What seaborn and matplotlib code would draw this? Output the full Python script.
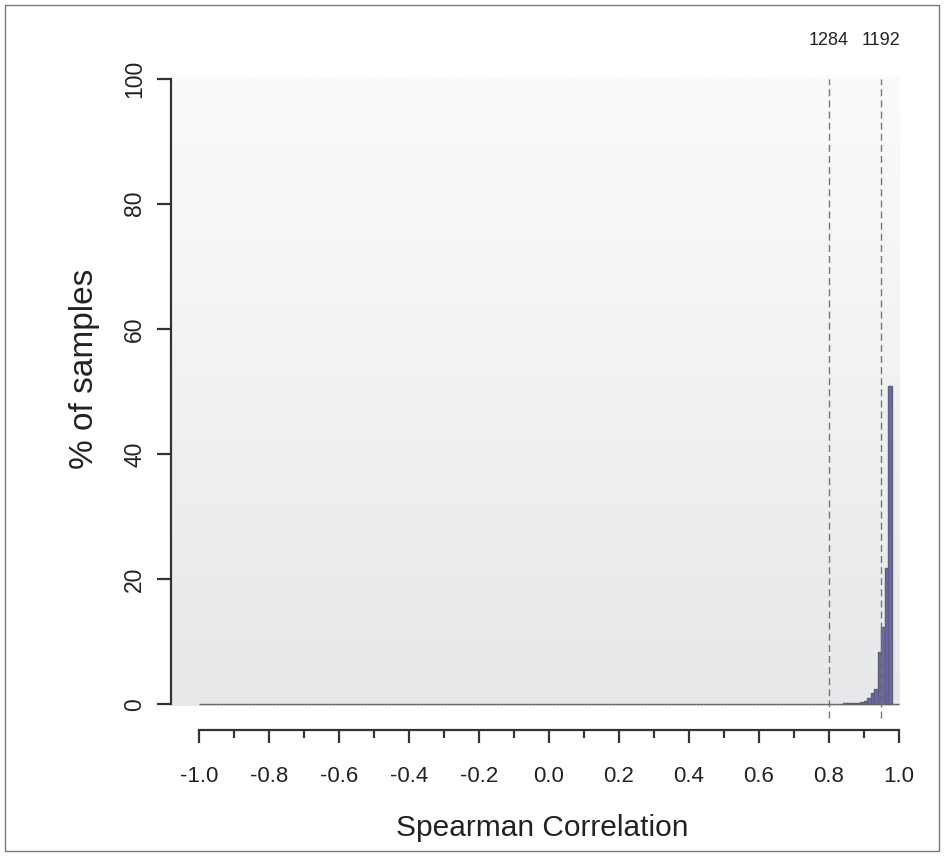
import numpy as np
import pandas as pd
import matplotlib
matplotlib.use("Agg")
import matplotlib.pyplot as plt
from matplotlib.colors import LinearSegmentedColormap
from matplotlib.patches import Rectangle
import seaborn as sns

# ---- data ----
bin_left = [0.46, 0.61, 0.79, 0.84, 0.85, 0.86, 0.87, 0.88, 0.89,
            0.90, 0.91, 0.92, 0.93, 0.94, 0.95, 0.96, 0.97]
pct_samples = [0.08, 0.08, 0.05, 0.25, 0.2, 0.25, 0.2, 0.3, 0.35,
               0.6, 1.1, 1.8, 2.4, 8.3, 12.4, 21.8, 50.8]
thresholds = [0.80, 0.95]
threshold_labels = ["1284", "1192"]
x_ticks = [-1.0, -0.8, -0.6, -0.4, -0.2, 0.0, 0.2, 0.4, 0.6, 0.8, 1.0]
y_ticks = [0, 20, 40, 60, 80, 100]

df = pd.DataFrame({"corr": np.array(bin_left) + 0.005, "pct": pct_samples})

sns.set_style("white")
plt.rcParams["font.family"] = ["Liberation Sans", "DejaVu Sans"]

W, H = 944, 856
fig = plt.figure(figsize=(W / 100, H / 100), dpi=100)
ax = fig.add_axes([171 / W, 1 - 706 / H, (900 - 171) / W, (706 - 76) / H])

xlim = (-1.08, 1.003)
ylim = (-0.25, 100.4)

# gradient panel background
cmap = LinearSegmentedColormap.from_list("bg", ["#e7e8e9", "#fbfbfb"])
grad = np.linspace(0, 1, 256).reshape(-1, 1)
ax.imshow(grad, cmap=cmap, aspect="auto", origin="lower",
          extent=[xlim[0], xlim[1], ylim[0], ylim[1]], zorder=0)

sns.histplot(data=df, x="corr", weights="pct", binwidth=0.01,
             binrange=(-1, 1), stat="count",
             color="#6b68b2", edgecolor="#606070", linewidth=1.0, alpha=1,
             ax=ax)

ax.set_xlim(*xlim)
ax.set_ylim(*ylim)

# dashed threshold lines and labels
for t, lab in zip(thresholds, threshold_labels):
    ax.vlines(t, -2.1, 100, colors="#777777", linestyles=(0, (5, 3)),
              linewidth=1.0, clip_on=False, zorder=3)
    ax.text(t, 106, lab, ha="center", va="center", fontsize=13,
            color="#222222", clip_on=False)

# spines / axes in R style
for s in ["top", "right"]:
    ax.spines[s].set_visible(False)
ax.spines["bottom"].set_position(("outward", 17))
ax.spines["bottom"].set_bounds(-1, 1)
ax.spines["left"].set_bounds(0, 100)
for s in ["bottom", "left"]:
    ax.spines[s].set_color("#333333")
    ax.spines[s].set_linewidth(1.6)

ax.set_xticks(x_ticks)
ax.set_xticklabels([f"{v:.1f}" for v in x_ticks])
ax.set_xticks(np.linspace(-0.9, 0.9, 10), minor=True)
ax.set_yticks(y_ticks)
ax.set_yticklabels([str(v) for v in y_ticks], rotation=90, va="center")

ax.tick_params(axis="x", which="major", length=9.4, width=1.6, color="#333333",
               pad=16.5, labelsize=16, labelcolor="#222222", bottom=True)
ax.tick_params(axis="x", which="minor", length=5.5, width=1.6, color="#333333",
               bottom=True)
ax.tick_params(axis="y", which="major", length=9.8, width=1.6, color="#333333",
               pad=8, labelsize=16.5, labelcolor="#222222", left=True)

ax.set_xlabel("Spearman Correlation", fontsize=21.5, color="#222222", labelpad=20)
ax.set_ylabel("% of samples", fontsize=24, color="#222222", labelpad=17)
ax.xaxis.label.set_x((542 - 171) / 729)
ax.yaxis.label.set_y(0.535)

# outer frame
fig.patches.append(Rectangle((5 / W, 5 / H), (W - 10) / W, (H - 10) / H,
                             transform=fig.transFigure, fill=False,
                             edgecolor="#777777", linewidth=1.0))

fig.savefig("out.png", dpi=100)
